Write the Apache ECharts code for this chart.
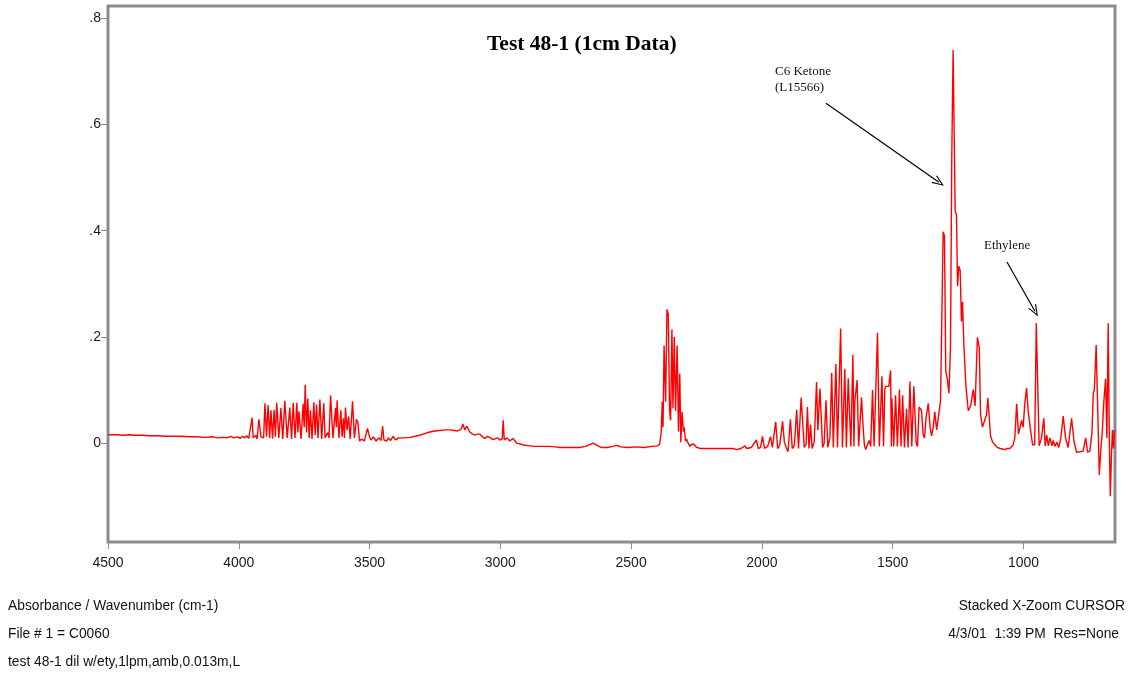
<!DOCTYPE html>
<html>
<head>
<meta charset="utf-8">
<script src="https://cdn.jsdelivr.net/npm/echarts@6/dist/echarts.min.js"></script>
<style>
html,body{margin:0;padding:0;background:#fff;}
#chart{width:1130px;height:675px;}
</style>
</head>
<body>
<div id="chart"></div>
<script>
// ---- data (wavenumber cm-1, absorbance) ----
const regionBaselineHigh = [
 [4500,0.016],[4470,0.016],[4440,0.015],[4420,0.016],[4400,0.015],[4370,0.015],[4340,0.014],[4310,0.014],
 [4280,0.013],[4250,0.013],[4220,0.013],[4190,0.012],[4160,0.012],[4130,0.011],[4100,0.012],[4080,0.010],
 [4060,0.011],[4045,0.010],[4030,0.013],[4020,0.010],[4005,0.012],[3995,0.009],[3985,0.013],[3977,0.010],
 [3970,0.014],[3962,0.009],[3955,0.012]
];
const regionWaterStretch = [
 [3949,0.048],[3945,0.010],[3935,0.015],[3930,0.008],[3923,0.045],[3919,0.028],[3915,0.012],[3905,0.010],
 [3900,0.075],[3894,0.012],[3888,0.072],[3882,0.010],[3877,0.062],[3871,0.009],[3865,0.063],[3860,0.012],
 [3855,0.076],[3847,0.010],[3839,0.066],[3832,0.008],[3824,0.080],[3815,0.010],[3810,0.012],[3805,0.067],
 [3798,0.008],[3792,0.076],[3785,0.010],[3778,0.076],[3774,0.020],[3770,0.060],[3762,0.008],[3754,0.074],
 [3750,0.030],[3746,0.110],[3741,0.020],[3736,0.084],[3731,0.010],[3726,0.062],[3720,0.008],[3713,0.077],
 [3708,0.015],[3703,0.073],[3697,0.010],[3690,0.082],[3683,0.008],[3675,0.075],[3670,0.010],[3665,0.008],
 [3660,0.020],[3655,0.010],[3649,0.090],[3645,0.088],[3640,0.010],[3635,0.012],[3630,0.066],[3627,0.030],
 [3624,0.081],[3617,0.010],[3610,0.062],[3605,0.012],[3600,0.047],[3596,0.010],[3592,0.067],[3586,0.025],
 [3580,0.050],[3574,0.008],[3565,0.079],[3558,0.010],[3550,0.045],[3545,0.040],[3538,0.004],[3530,0.008],
 [3520,0.004],[3508,0.028],[3500,0.012],[3494,0.006],[3485,0.012],[3475,0.004],[3465,0.010],[3456,0.005],
 [3450,0.032],[3445,0.006],[3435,0.004],[3428,0.010],[3420,0.005],[3410,0.013],[3400,0.006],[3390,0.010]
];
const regionCHHump = [
 [3385,0.009],[3365,0.010],[3346,0.011],[3325,0.013],[3308,0.015],[3290,0.018],[3270,0.021],[3250,0.023],
 [3232,0.024],[3210,0.025],[3193,0.025],[3175,0.024],[3163,0.023],[3150,0.026],[3143,0.036],[3136,0.025],
 [3128,0.032],[3117,0.021],[3108,0.018],[3098,0.015],[3088,0.017],[3078,0.017],[3068,0.012],[3059,0.009],
 [3050,0.013],[3040,0.011],[3030,0.007],[3021,0.008],[3010,0.010],[3002,0.006],[2993,0.008],[2989,0.043],
 [2985,0.006],[2975,0.010],[2964,0.004],[2952,0.009],[2937,0.000],[2920,-0.002],[2906,-0.004],[2885,-0.005],
 [2868,-0.006],[2840,-0.006],[2811,-0.006],[2790,-0.007],[2773,-0.008],[2740,-0.008],[2697,-0.008],
 [2675,-0.006],[2660,-0.003],[2645,0.000],[2630,-0.004],[2615,-0.008],[2590,-0.008],[2570,-0.006],
 [2555,-0.004],[2540,-0.007],[2510,-0.008],[2480,-0.007],[2450,-0.008],[2420,-0.006],[2400,-0.005]
];
const regionCO2 = [
 [2391,-0.002],[2385,0.020],[2381,0.078],[2378,0.030],[2374,0.184],[2368,0.078],[2363,0.252],[2358,0.243],
 [2353,0.061],[2349,0.043],[2344,0.214],[2340,0.066],[2335,0.200],[2330,0.061],[2324,0.184],[2319,0.022],
 [2314,0.131],[2310,0.002],[2305,0.059],[2300,0.022],[2297,0.030],[2292,0.004],[2288,0.008],[2282,0.000],
 [2275,-0.006],[2268,-0.002],[2260,-0.002],[2249,-0.008],[2235,-0.010],[2200,-0.010],[2160,-0.010],[2123,-0.010]
];
const regionWaterBend = [
 [2111,-0.010],[2096,-0.012],[2080,-0.010],[2065,-0.005],[2058,-0.010],[2040,-0.008],[2021,0.006],[2014,-0.010],
 [2005,-0.008],[1998,0.013],[1990,-0.010],[1978,-0.006],[1967,0.012],[1960,-0.008],[1954,-0.006],[1947,0.040],
 [1940,-0.010],[1932,-0.004],[1921,0.041],[1914,0.002],[1907,-0.008],[1900,-0.016],[1891,0.045],[1884,-0.010],
 [1876,-0.004],[1867,0.063],[1860,-0.010],[1850,0.086],[1845,0.087],[1838,-0.008],[1831,-0.002],[1826,0.068],
 [1820,-0.010],[1814,0.035],[1808,-0.010],[1800,0.002],[1791,0.115],[1786,0.025],[1778,0.103],[1774,0.100],
 [1768,-0.008],[1762,0.000],[1755,0.081],[1748,-0.008],[1740,0.010],[1733,0.132],[1727,-0.008],[1717,0.149],
 [1711,-0.008],[1699,0.216],[1692,-0.008],[1683,0.140],[1677,-0.008],[1670,0.122],[1665,0.060],[1660,-0.006],
 [1652,0.166],[1648,-0.006],[1645,0.077],[1636,0.119],[1630,-0.006],[1619,0.086],[1613,0.030],[1608,-0.004],
 [1603,-0.012],[1597,-0.004],[1590,0.005],[1584,-0.006],[1577,0.100],[1571,-0.006],[1558,0.208],[1551,-0.006],
 [1541,0.126],[1535,-0.006],[1530,0.103],[1526,0.107],[1520,0.105],[1515,0.107],[1508,0.137],[1505,-0.006],
 [1503,0.084],[1496,-0.006],[1489,0.090],[1482,-0.006],[1474,0.101],[1468,-0.006],[1462,0.090],[1455,-0.008],
 [1447,0.065],[1441,-0.008],[1434,0.116],[1427,-0.006],[1419,0.107],[1410,0.000],[1405,-0.006],[1399,0.068],
 [1390,0.062],[1383,0.015],[1378,0.010],[1373,0.046],[1364,0.075],[1357,0.030],[1351,0.014],[1345,0.030],
 [1339,0.059],[1332,0.025],[1322,0.061],[1317,0.080]
];
const regionKetone = [
 [1313,0.207],[1307,0.398],[1302,0.390],[1297,0.135],[1291,0.120],[1285,0.094],[1279,0.179],[1274,0.540],
 [1269,0.740],[1265,0.738],[1261,0.437],[1256,0.430],[1252,0.296],[1247,0.333],[1242,0.325],[1237,0.229],
 [1233,0.266],[1228,0.188],[1220,0.108],[1211,0.061],[1202,0.070],[1192,0.101],[1185,0.070],[1176,0.199],
 [1169,0.180],[1164,0.055],[1157,0.030],[1150,0.028],[1141,0.054],[1136,0.085],[1131,0.050],[1126,0.014],
 [1118,0.002],[1109,-0.003],[1100,-0.008],[1090,-0.010],[1080,-0.011],[1071,-0.012],[1062,-0.010],[1052,-0.010],
 [1046,-0.008],[1040,-0.004]
];
const regionFingerprint = [
 [1033,0.010],[1026,0.074],[1019,0.017],[1013,0.030],[1007,0.043],[1001,0.030],[995,0.074],[988,0.104],
 [982,0.060],[973,0.025],[965,-0.003],[957,-0.003],[951,0.226],[946,0.226],[940,-0.005],[931,0.010],
 [922,0.047],[917,-0.005],[911,0.015],[905,-0.005],[899,0.010],[891,-0.005],[886,0.005],[880,-0.006],
 [872,0.002],[865,-0.008],[857,0.010],[848,0.051],[839,0.010],[829,-0.008],[816,0.047],[807,0.005],
 [797,-0.017],[784,-0.016],[772,-0.015],[762,0.010],[755,-0.017],[746,-0.015],[738,0.020],[733,0.094],
 [729,0.100],[722,0.185],[717,0.084],[710,-0.060],[704,-0.010],[699,0.017],[693,0.076],[686,0.121],
 [681,0.010],[676,0.226],[672,0.020],[668,-0.100],[664,-0.030],[660,0.025],[656,-0.010],[652,0.025]
];
const spectrum = [].concat(regionBaselineHigh, regionWaterStretch, regionCHHump, regionCO2,
                           regionWaterBend, regionKetone, regionFingerprint);

const xTicks = [4500, 4000, 3500, 3000, 2500, 2000, 1500, 1000];
const yTicks = [0, 0.2, 0.4, 0.6, 0.8];

const titleText = 'Test 48-1 (1cm Data)';
const arrowKetone = [[1755, 0.640], [1323, 0.491]];
const arrowEthylene = [[1063, 0.341], [956, 0.2485]];

const footerLeft = ['Absorbance / Wavenumber (cm-1)', 'File # 1 = C0060', 'test 48-1 dil w/ety,1lpm,amb,0.013m,L'];
const footerRight = ['Stacked X-Zoom CURSOR', '4/3/01  1:39 PM  Res=None'];

// ---- chart ----
const chart = echarts.init(document.getElementById('chart'), null, {renderer: 'canvas'});
const sans = 'Liberation Sans, Arial, sans-serif';
const serif = 'Liberation Serif, Times New Roman, serif';
const chevron = 'path://M5,0 L10,12 L8.8,12.5 L5,3 L1.2,12.5 L0,12 Z';

chart.setOption({
  animation: false,
  backgroundColor: '#ffffff',
  grid: {
    left: 108, right: 15, top: 6, bottom: 133,
    show: true, borderColor: '#8c8c8c', borderWidth: 3, backgroundColor: '#ffffff'
  },
  xAxis: {
    type: 'value', inverse: true, min: 650, max: 4500, position: 'bottom',
    axisLine: {show: false, onZero: false},
    splitLine: {show: false},
    axisTick: {show: true, length: 7, lineStyle: {color: '#8c8c8c', width: 1}, customValues: xTicks},
    axisLabel: {customValues: xTicks, margin: 14, color: '#1a1a1a', fontFamily: sans, fontSize: 14,
                formatter: v => String(v)}
  },
  yAxis: {
    type: 'value', min: -0.186, max: 0.823, position: 'left',
    axisLine: {show: false, onZero: false},
    splitLine: {show: false},
    axisTick: {show: true, length: 7, lineStyle: {color: '#8c8c8c', width: 1}, customValues: yTicks},
    axisLabel: {customValues: yTicks, margin: 7, color: '#1a1a1a', fontFamily: sans, fontSize: 14,
                formatter: v => v === 0 ? '0' : v.toFixed(1).replace(/^0/, '')}
  },
  series: [{
    type: 'line',
    data: spectrum,
    showSymbol: false,
    symbol: 'none',
    sampling: 'none',
    lineStyle: {color: '#ff0000', width: 1.4},
    silent: true,
    clip: true,
    markLine: {
      silent: true,
      animation: false,
      symbol: ['none', chevron],
      symbolSize: [9, 12],
      label: {show: false},
      lineStyle: {color: '#000000', width: 1.2, type: 'solid'},
      data: [
        [{coord: arrowKetone[0]}, {coord: arrowKetone[1]}],
        [{coord: arrowEthylene[0]}, {coord: arrowEthylene[1]}]
      ]
    }
  }],
  graphic: [
    {type: 'text', left: 487, top: 33, silent: true,
     style: {text: titleText, fill: '#000', font: 'bold 21.5px ' + serif}},
    {type: 'text', left: 775, top: 64, silent: true,
     style: {text: 'C6 Ketone\n(L15566)', fill: '#111', font: '13px ' + serif, lineHeight: 16}},
    {type: 'text', left: 984, top: 239, silent: true,
     style: {text: 'Ethylene', fill: '#111', font: '13px ' + serif}},
    {type: 'text', left: 8, top: 599, silent: true,
     style: {text: footerLeft[0], fill: '#111', font: '13.8px ' + sans}},
    {type: 'text', left: 8, top: 627, silent: true,
     style: {text: footerLeft[1], fill: '#111', font: '13.8px ' + sans}},
    {type: 'text', left: 8, top: 655, silent: true,
     style: {text: footerLeft[2], fill: '#111', font: '13.8px ' + sans}},
    {type: 'text', right: 5, top: 599, silent: true,
     style: {text: footerRight[0], fill: '#111', font: '13.8px ' + sans}},
    {type: 'text', right: 11, top: 627, silent: true,
     style: {text: footerRight[1], fill: '#111', font: '13.8px ' + sans}}
  ]
});
</script>
</body>
</html>
